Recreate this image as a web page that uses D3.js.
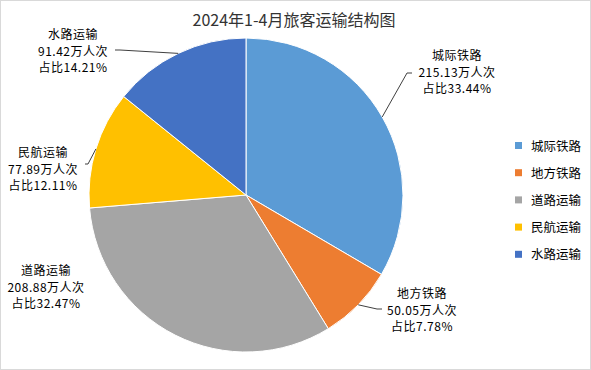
<!doctype html>
<html>
<head>
<meta charset="UTF-8">
<title>2024年1-4月旅客运输结构图</title>
<script src="https://d3js.org/d3.v7.min.js"></script>
<style>
  body { margin: 0; background: #fff; }
  svg text { font-family: "Noto Sans CJK SC", "DejaVu Sans", sans-serif; }
</style>
</head>
<body>
<div id="chart"></div>
<script>
// data
var categories = ["城际铁路", "地方铁路", "道路运输", "民航运输", "水路运输"];
var volumes = ["215.13", "50.05", "208.88", "77.89", "91.42"];
var shares = [33.44, 7.78, 32.47, 12.11, 14.21];
var colors = ["#5B9BD5", "#ED7D31", "#A5A5A5", "#FFC000", "#4472C4"];

// label layout: text centre x, first baseline y, leader elbow, leader end
var labelLayout = [
  { x: 457, y: 60, elbow: [407, 73], end: [412, 73] },
  { x: 422, y: 298, elbow: [377, 309], end: [382, 309] },
  { x: 46, y: 275, elbow: null, end: null },
  { x: 43, y: 157, elbow: [88, 164], end: [85, 164] },
  { x: 73, y: 39, elbow: [120, 50], end: [115, 50] }
];

var W = 591, H = 370;
var cx = 246, cy = 195, R = 157;

var svg = d3.select("#chart").append("svg")
    .attr("width", W).attr("height", H);

svg.append("rect")
    .attr("x", 0.5).attr("y", 0.5)
    .attr("width", W - 1).attr("height", H - 1)
    .attr("fill", "#fff").attr("stroke", "#D9D9D9");

svg.append("text")
    .attr("x", 294).attr("y", 26)
    .attr("text-anchor", "middle")
    .attr("font-size", 16)
    .attr("fill", "#333")
    .text("2024年1-4月旅客运输结构图");

var pie = d3.pie().sort(null).value(function(d) { return d; });
var arcs = pie(shares);
var arc = d3.arc().innerRadius(0).outerRadius(R);

var g = svg.append("g").attr("transform", "translate(" + cx + "," + cy + ")");

g.selectAll("path")
    .data(arcs)
    .enter().append("path")
    .attr("d", arc)
    .attr("fill", function(d, i) { return colors[i]; })
    .attr("stroke", "#fff")
    .attr("stroke-width", 1);

// leader lines
arcs.forEach(function(d, i) {
  var L = labelLayout[i];
  if (!L.elbow) return;
  var a = (d.startAngle + d.endAngle) / 2;
  var px = cx + R * Math.sin(a), py = cy - R * Math.cos(a);
  svg.append("polyline")
      .attr("points", [[px, py], L.elbow, L.end].map(function(p) { return p.join(","); }).join(" "))
      .attr("fill", "none")
      .attr("stroke", "#404040")
      .attr("stroke-width", 1);
});

// labels, one text per line
arcs.forEach(function(d, i) {
  var L = labelLayout[i];
  var lines = [categories[i], volumes[i] + "万人次", "占比" + shares[i].toFixed(2) + "%"];
  lines.forEach(function(s, k) {
    svg.append("text")
        .attr("x", L.x).attr("y", L.y + k * 16.5)
        .attr("text-anchor", "middle")
        .attr("font-size", 12)
        .attr("letter-spacing", 0.5)
        .attr("fill", "#000")
        .text(s);
  });
});

// legend
var legend = svg.append("g").attr("transform", "translate(515,146)");
var item = legend.selectAll("g")
    .data(categories)
    .enter().append("g")
    .attr("transform", function(d, i) { return "translate(0," + (i * 27.2) + ")"; });
item.append("rect")
    .attr("x", 0).attr("y", -4)
    .attr("width", 7).attr("height", 7)
    .attr("fill", function(d, i) { return colors[i]; });
item.append("text")
    .attr("x", 16).attr("y", 4.5)
    .attr("font-size", 12.5)
    .attr("fill", "#000")
    .text(function(d) { return d; });
</script>
</body>
</html>
